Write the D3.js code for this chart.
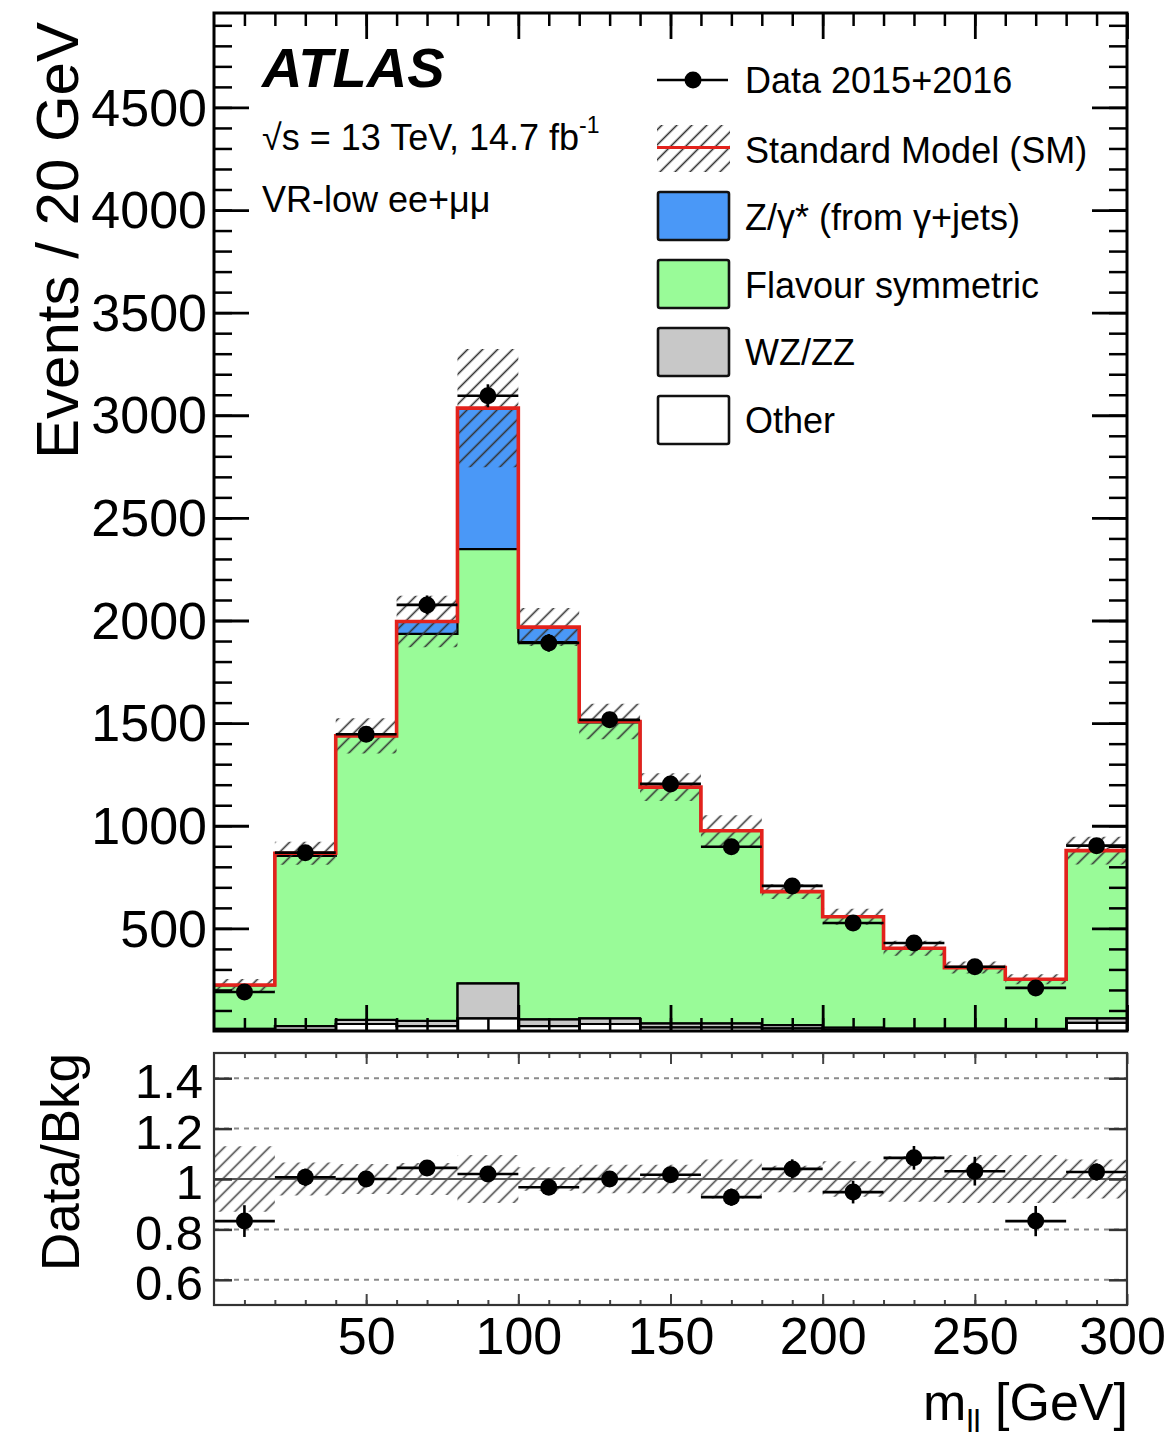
<!DOCTYPE html>
<html><head><meta charset="utf-8">
<script src="https://cdn.jsdelivr.net/npm/d3@7"></script>
<style>
body{margin:0;background:#fff}
svg{display:block}
text{font-family:"Liberation Sans",Arial,Helvetica,sans-serif;fill:#000}
</style>
</head><body>
<svg id="c" width="1168" height="1438"></svg>
<script>
// ---------------- data ----------------
const binLow   = [0,20,40,60,80,100,120,140,160,180,200,220,240,260,280];
const binHigh  = [20,40,60,80,100,120,140,160,180,200,220,240,260,280,300];
const dataCounts = [190,869,1446,2076,3095,1891,1516,1204,898,707,526,429,313,210,903];
const dataErr    = [14,29,38,46,56,43,39,35,30,27,23,21,18,15,30];
const otherBkg   = [3,5,34,24,62,24,34,18,18,13,5,4,4,3,40];
const wzzzBkg    = [8,19,20,25,170,33,28,19,19,16,11,8,8,7,22];
const flavourSym = [213,829,1384,1886,2116,1838,1441,1151,939,650,541,391,297,242,817];
const zGamma     = [0,13,0,60,687,73,5,0,0,0,0,0,0,0,0];
const smRelUnc   = [0.13,0.065,0.06,0.063,0.095,0.047,0.057,0.057,0.077,0.053,0.07,0.09,0.095,0.095,0.077];
const ratioVals  = [0.833,1.007,1.0,1.044,1.02,0.967,1.0,1.017,0.928,1.04,0.948,1.084,1.031,0.833,1.028];
const ratioErr   = [0.063,0.034,0.026,0.022,0.018,0.023,0.026,0.029,0.034,0.038,0.045,0.047,0.057,0.06,0.034];
const yTicksMain = [500,1000,1500,2000,2500,3000,3500,4000,4500];
const ratioTicks = [0.6,0.8,1,1.2,1.4];
const ratioGrid  = [0.6,0.8,1.2,1.4];
const xTickVals  = [50,100,150,200,250,300];
const legendLabels = ["Data 2015+2016","Standard Model (SM)","Z/\u03b3* (from \u03b3+jets)","Flavour symmetric","WZ/ZZ","Other"];
const compKeys   = ["other","wz","fs","z"];
const compColors = {other:"#ffffff", wz:"#c8c8c8", fs:"#99fb98", z:"#4a98f7"};

// ---------------- layout ----------------
const svg = d3.select("#c");
const L = 214, R = 1127;
const mainTop = 13, mainBot = 1031;
const rTop = 1053, rBot = 1305;
const x  = d3.scaleLinear().domain([0,300]).range([L,R]);
const y  = d3.scaleLinear().domain([0,4960]).range([mainBot,mainTop]);
const yr = d3.scaleLinear().domain([0.5,1.5]).range([rBot,rTop]);

const defs = svg.append("defs");
function hatch(id, color, sw){
  defs.append("pattern").attr("id",id).attr("patternUnits","userSpaceOnUse")
    .attr("width",10.6).attr("height",10.6).attr("patternTransform","rotate(45)")
    .append("line").attr("x1",5.3).attr("y1",0).attr("x2",5.3).attr("y2",10.6)
    .attr("stroke",color).attr("stroke-width",sw);
}
hatch("hatchMain","#333",1.6);
hatch("hatchRatio","#444",1.6);
defs.append("clipPath").attr("id","clipMain").append("rect").attr("x",L).attr("y",mainTop).attr("width",R-L).attr("height",mainBot-mainTop);
defs.append("clipPath").attr("id","clipRatio").append("rect").attr("x",L).attr("y",rTop).attr("width",R-L).attr("height",rBot-rTop);

// stacked table
const table = binLow.map((b,i)=>({x0:b, x1:binHigh[i], other:otherBkg[i], wz:wzzzBkg[i], fs:flavourSym[i], z:zGamma[i]}));
const stacked = d3.stack().keys(compKeys)(table);
const smTotal = table.map(d=>d.other+d.wz+d.fs+d.z);

function stepPts(arr0, arr1){
  const pts = binLow.map((b,i)=>({x:b, a:arr0[i], b:arr1[i]}));
  const n = binLow.length-1;
  pts.push({x:binHigh[n], a:arr0[n], b:arr1[n]});
  return pts;
}
const area = (ys)=>d3.area().curve(d3.curveStepAfter).x(d=>x(d.x)).y0(d=>ys(d.a)).y1(d=>ys(d.b));
const line = (ys)=>d3.line().curve(d3.curveStepAfter).x(d=>x(d.x)).y(d=>ys(d.b));

// ---------------- main panel ----------------
const gm = svg.append("g").attr("clip-path","url(#clipMain)");
stacked.forEach(s=>{
  const pts = stepPts(s.map(d=>d[0]), s.map(d=>d[1]));
  gm.append("path").attr("d",area(y)(pts)).attr("fill",compColors[s.key]).attr("stroke","none");
});
// small components: bin boxes with outlines
["other","wz"].forEach(k=>{
  const s = stacked.find(q=>q.key===k);
  gm.selectAll(null).data(s.map((d,i)=>({i,lo:d[0],hi:d[1]}))).enter().append("rect")
    .attr("x",d=>x(binLow[d.i])).attr("width",d=>x(binHigh[d.i])-x(binLow[d.i]))
    .attr("y",d=>y(d.hi)).attr("height",d=>y(d.lo)-y(d.hi))
    .attr("fill",compColors[k]).attr("stroke","#000").attr("stroke-width",1.8);
});
stacked.forEach(s=>{
  const pts = stepPts(s.map(d=>d[0]), s.map(d=>d[1]));
  gm.append("path").attr("d",line(y)(pts)).attr("fill","none").attr("stroke","#000").attr("stroke-width",2.2);
});
// uncertainty band
const bandPts = stepPts(smTotal.map((v,i)=>v*(1-smRelUnc[i])), smTotal.map((v,i)=>v*(1+smRelUnc[i])));
gm.append("path").attr("d",area(y)(bandPts)).attr("fill","url(#hatchMain)").attr("stroke","none");
// SM total red line
const smPts = stepPts(smTotal.map(()=>0), smTotal);
gm.append("path").attr("d",line(y)(smPts)).attr("fill","none").attr("stroke","#e3221c").attr("stroke-width",3.6);
// data
const gd = svg.append("g");
dataCounts.forEach((v,i)=>{
  gd.append("line").attr("x1",x(binLow[i])).attr("x2",x(binHigh[i])).attr("y1",y(v)).attr("y2",y(v)).attr("stroke","#000").attr("stroke-width",2.6);
  gd.append("line").attr("x1",x((binLow[i]+binHigh[i])/2)).attr("x2",x((binLow[i]+binHigh[i])/2)).attr("y1",y(v-dataErr[i])).attr("y2",y(v+dataErr[i])).attr("stroke","#000").attr("stroke-width",2.6);
  gd.append("circle").attr("cx",x((binLow[i]+binHigh[i])/2)).attr("cy",y(v)).attr("r",8.5).attr("fill","#000");
});

// main axes
function cleanAxis(g){ g.select(".domain").remove(); return g; }
const minorY = d3.range(100,4960,100);
const minorX = d3.range(10,300,10);
svg.append("g").attr("transform",`translate(${L},0)`).call(d3.axisLeft(y).tickValues(minorY).tickSize(-18).tickFormat("")).call(cleanAxis).selectAll("line").attr("stroke-width",2.5);
svg.append("g").attr("transform",`translate(${R},0)`).call(d3.axisRight(y).tickValues(minorY).tickSize(-18).tickFormat("")).call(cleanAxis).selectAll("line").attr("stroke-width",2.5);
const yl = svg.append("g").attr("transform",`translate(${L},0)`).call(d3.axisLeft(y).tickValues(yTicksMain).tickSize(-35).tickPadding(7).tickFormat(d3.format("d"))).call(cleanAxis);
yl.selectAll("line").attr("stroke-width",2.8);
yl.selectAll("text").attr("font-size",52).attr("font-family","Liberation Sans, Arial, sans-serif").attr("dy","0.34em");
svg.append("g").attr("transform",`translate(${R},0)`).call(d3.axisRight(y).tickValues(yTicksMain).tickSize(-35).tickFormat("")).call(cleanAxis).selectAll("line").attr("stroke-width",2.8);
svg.append("g").attr("transform",`translate(0,${mainBot})`).call(d3.axisBottom(x).tickValues(minorX).tickSize(-13).tickFormat("")).call(cleanAxis).selectAll("line").attr("stroke-width",2.5);
svg.append("g").attr("transform",`translate(0,${mainBot})`).call(d3.axisBottom(x).tickValues(xTickVals).tickSize(-26).tickFormat("")).call(cleanAxis).selectAll("line").attr("stroke-width",2.8);
svg.append("g").attr("transform",`translate(0,${mainTop})`).call(d3.axisTop(x).tickValues(minorX).tickSize(-13).tickFormat("")).call(cleanAxis).selectAll("line").attr("stroke-width",2.5);
svg.append("g").attr("transform",`translate(0,${mainTop})`).call(d3.axisTop(x).tickValues(xTickVals).tickSize(-26).tickFormat("")).call(cleanAxis).selectAll("line").attr("stroke-width",2.8);
svg.append("rect").attr("x",L).attr("y",mainTop).attr("width",R-L).attr("height",mainBot-mainTop).attr("fill","none").attr("stroke","#000").attr("stroke-width",3);

// y title
svg.append("text").attr("transform","translate(78,22) rotate(-90)").attr("text-anchor","end").attr("font-size",60).text("Events / 20 GeV");

// ATLAS labels
svg.append("text").attr("x",262).attr("y",87).attr("font-size",56).attr("font-weight","bold").attr("font-style","italic").text("ATLAS");
const t2 = svg.append("text").attr("x",262).attr("y",150).attr("font-size",36);
t2.append("tspan").text("\u221As = 13 TeV, 14.7 fb");
t2.append("tspan").attr("font-size",23).attr("dy",-17).text("-1");
svg.append("text").attr("x",262).attr("y",212).attr("font-size",36).text("VR-low ee+\u03bc\u03bc");

// legend
const lg = svg.append("g");
const lx0 = 657, lx1 = 730, ltx = 745;
lg.append("line").attr("x1",lx0).attr("x2",lx1-2).attr("y1",80).attr("y2",80).attr("stroke","#000").attr("stroke-width",2.6);
lg.append("circle").attr("cx",693).attr("cy",80).attr("r",8.5).attr("fill","#000");
lg.append("rect").attr("x",lx0).attr("y",125).attr("width",lx1-lx0).attr("height",47).attr("fill","url(#hatchMain)");
lg.append("line").attr("x1",lx0).attr("x2",lx1).attr("y1",147.5).attr("y2",147.5).attr("stroke","#e3221c").attr("stroke-width",3.2);
const boxKeys = ["z","fs","wz","other"];
boxKeys.forEach((k,i)=>{
  lg.append("rect").attr("x",658).attr("y",192+i*68).attr("width",71).attr("height",48).attr("rx",2)
    .attr("fill",compColors[k]).attr("stroke","#111").attr("stroke-width",2.6);
});
const lbase = [93,163,230,298,365,433];
legendLabels.forEach((t,i)=>{
  lg.append("text").attr("x",ltx).attr("y",lbase[i]).attr("font-size",36).text(t);
});

// ---------------- ratio panel ----------------
const gr = svg.append("g").attr("clip-path","url(#clipRatio)");
ratioGrid.forEach(v=>{
  gr.append("line").attr("x1",L).attr("x2",R).attr("y1",yr(v)).attr("y2",yr(v)).attr("stroke","#8a8a8a").attr("stroke-width",2).attr("stroke-dasharray","5,5");
});
const rBand = stepPts(smRelUnc.map(u=>1-u), smRelUnc.map(u=>1+u));
gr.append("path").attr("d",area(yr)(rBand)).attr("fill","url(#hatchRatio)");
gr.append("line").attr("x1",L).attr("x2",R).attr("y1",yr(1)).attr("y2",yr(1)).attr("stroke","#555").attr("stroke-width",2);
ratioVals.forEach((v,i)=>{
  const cx = x((binLow[i]+binHigh[i])/2);
  gr.append("line").attr("x1",x(binLow[i])).attr("x2",x(binHigh[i])).attr("y1",yr(v)).attr("y2",yr(v)).attr("stroke","#000").attr("stroke-width",2.6);
  gr.append("line").attr("x1",cx).attr("x2",cx).attr("y1",yr(v-ratioErr[i])).attr("y2",yr(v+ratioErr[i])).attr("stroke","#000").attr("stroke-width",2.6);
  gr.append("circle").attr("cx",cx).attr("cy",yr(v)).attr("r",8.5).attr("fill","#000");
});
// ratio axes
const ryl = svg.append("g").attr("transform",`translate(${L},0)`).call(d3.axisLeft(yr).tickValues(ratioTicks).tickSize(-18).tickPadding(11).tickFormat(d=>d===1?"1":d3.format(".1f")(d))).call(cleanAxis);
ryl.selectAll("line").attr("stroke","#333").attr("stroke-width",2.5);
ryl.selectAll("text").attr("font-size",49).attr("font-family","Liberation Sans, Arial, sans-serif").attr("dy","0.4em");
svg.append("g").attr("transform",`translate(${R},0)`).call(d3.axisRight(yr).tickValues(ratioTicks).tickSize(-18).tickFormat("")).call(cleanAxis).selectAll("line").attr("stroke","#333").attr("stroke-width",2.5);
svg.append("g").attr("transform",`translate(0,${rTop})`).call(d3.axisTop(x).tickValues(minorX).tickSize(-5).tickFormat("")).call(cleanAxis).selectAll("line").attr("stroke","#444").attr("stroke-width",2);
svg.append("g").attr("transform",`translate(0,${rTop})`).call(d3.axisTop(x).tickValues(xTickVals).tickSize(-11).tickFormat("")).call(cleanAxis).selectAll("line").attr("stroke","#444").attr("stroke-width",2);
svg.append("g").attr("transform",`translate(0,${rBot})`).call(d3.axisBottom(x).tickValues(minorX).tickSize(-5).tickFormat("")).call(cleanAxis).selectAll("line").attr("stroke","#444").attr("stroke-width",2);
const rxl = svg.append("g").attr("transform",`translate(0,${rBot})`).call(d3.axisBottom(x).tickValues(xTickVals).tickSize(-11).tickPadding(12).tickFormat(d3.format("d"))).call(cleanAxis);
rxl.selectAll("line").attr("stroke","#444").attr("stroke-width",2);
rxl.selectAll("text").attr("font-size",52).attr("font-family","Liberation Sans, Arial, sans-serif");
rxl.selectAll("text").filter(d=>d===300).attr("x",-5);
svg.append("rect").attr("x",L).attr("y",rTop).attr("width",R-L).attr("height",rBot-rTop).attr("fill","none").attr("stroke","#333").attr("stroke-width",2.2);

svg.append("text").attr("transform","translate(79,1053) rotate(-90)").attr("text-anchor","end").attr("font-size",53).text("Data/Bkg");

const xt = svg.append("text").attr("x",1128).attr("y",1420).attr("text-anchor","end").attr("font-size",52);
xt.append("tspan").text("m");
xt.append("tspan").attr("font-size",32).attr("dy",12).text("ll");
xt.append("tspan").attr("dy",-12).text(" [GeV]");
</script>
</body></html>
